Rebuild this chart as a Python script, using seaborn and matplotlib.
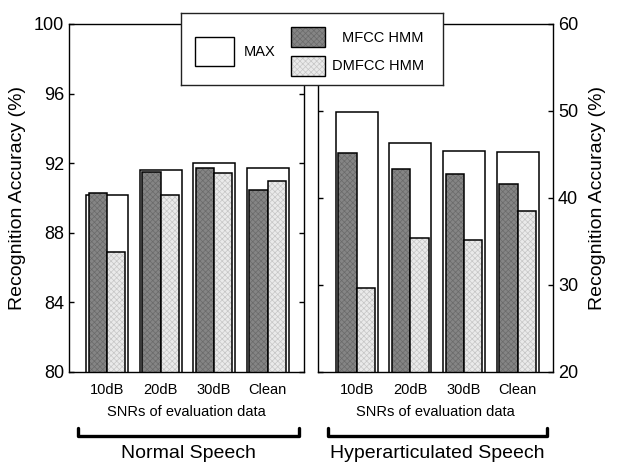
import pandas as pd
import seaborn as sns
import matplotlib.pyplot as plt
from matplotlib.lines import Line2D
from matplotlib.patches import Rectangle
from matplotlib.colors import to_rgba

sns.set_style("ticks")
plt.rcParams['font.family'] = ['Liberation Sans', 'DejaVu Sans']
plt.rcParams['hatch.linewidth'] = 0.5
for k in ['text.color', 'axes.labelcolor', 'xtick.color', 'ytick.color']:
    plt.rcParams[k] = 'black'

# values
snr = ["10dB", "20dB", "30dB", "Clean"]
normal_max = [90.2, 91.6, 92.0, 91.7]
normal_mfcc = [90.3, 91.5, 91.75, 90.45]
normal_dmfcc = [86.9, 90.15, 91.45, 90.95]
hyper_max = [49.85, 46.35, 45.4, 45.25]
hyper_mfcc = [45.15, 43.35, 42.75, 41.65]
hyper_dmfcc = [29.7, 35.4, 35.15, 38.5]

models = ["MFCC HMM", "DMFCC HMM"]
fills = {"MFCC HMM": "#858585", "DMFCC HMM": "#eaeaea"}
hatchcols = {"MFCC HMM": "#6a6a6a", "DMFCC HMM": "#c6c6c6"}


def set_hatch(p, hatch, col):
    p.set_hatch(hatch)
    try:
        p.set_hatchcolor(col)
    except AttributeError:
        p._hatch_color = to_rgba(col)


def draw_panel(ax, vmax, mfcc, dmfcc):
    sns.barplot(x=snr, y=vmax, color="white", edgecolor="black",
                linewidth=1.1, width=0.785, saturation=1, ax=ax)
    df = pd.DataFrame({"snr": snr * 2, "acc": mfcc + dmfcc,
                       "model": [models[0]] * 4 + [models[1]] * 4})
    sns.barplot(data=df, x="snr", y="acc", hue="model", hue_order=models,
                palette=fills, saturation=1, width=0.68, dodge=True,
                edgecolor="black", linewidth=1.1, legend=False, ax=ax)
    bars = ax.patches
    for p in bars[4:8]:
        set_hatch(p, "xxxxxx", hatchcols[models[0]])
    for p in bars[8:12]:
        set_hatch(p, "xxxxxx", hatchcols[models[1]])
    ax.set_xlabel("SNRs of evaluation data", fontsize=10.5, labelpad=6)
    ax.tick_params(axis="x", length=0, labelsize=10.5, pad=8)
    ax.tick_params(axis="y", direction="in", length=3.5, width=1,
                   labelsize=13, left=True, right=True)
    for s in ax.spines.values():
        s.set_visible(True)
        s.set_linewidth(1)
        s.set_color("black")


fig = plt.figure(figsize=(6.17, 4.63), dpi=100)
ax1 = fig.add_axes([69 / 617, 1 - 372 / 463, 235 / 617, 348 / 463])
ax2 = fig.add_axes([318 / 617, 1 - 372 / 463, 235 / 617, 348 / 463])

draw_panel(ax1, normal_max, normal_mfcc, normal_dmfcc)
ax1.set_ylim(80, 100)
ax1.set_yticks([80, 84, 88, 92, 96, 100])
ax1.set_xlim(-0.71, 3.68)
ax1.tick_params(axis="y", labelleft=True, labelright=False)
ax1.set_ylabel("Recognition Accuracy (%)", fontsize=14, labelpad=6)

draw_panel(ax2, hyper_max, hyper_mfcc, hyper_dmfcc)
ax2.set_ylim(20, 60)
ax2.set_yticks([20, 30, 40, 50, 60])
ax2.set_xlim(-0.72, 3.66)
ax2.tick_params(axis="y", labelleft=False, labelright=True)
ax2.yaxis.set_label_position("right")
ax2.set_ylabel("Recognition Accuracy (%)", fontsize=14, labelpad=8)

# group brackets and titles under each panel
for x0, x1, name in [(78, 299, "Normal Speech"), (328, 547, "Hyperarticulated Speech")]:
    xs = [x0 / 617, x0 / 617, x1 / 617, x1 / 617]
    ys = [1 - 428 / 463, 1 - 436 / 463, 1 - 436 / 463, 1 - 428 / 463]
    fig.add_artist(Line2D(xs, ys, transform=fig.transFigure, color="black",
                          linewidth=2.4, solid_joinstyle="round"))
    fig.text((x0 + x1) / 2 / 617, 1 - 458.5 / 463, name, ha="center",
             va="baseline", fontsize=14)

# legend box drawn on top of both panels
lax = fig.add_axes([181 / 617, 1 - 85 / 463, 262 / 617, 71.7 / 463])
lax.set_xlim(181, 443)
lax.set_ylim(85, 13.3)
lax.set_xticks([])
lax.set_yticks([])
for s in lax.spines.values():
    s.set_linewidth(1)
    s.set_color("#222222")
lax.add_patch(Rectangle((195, 36.7), 39, 29.3, facecolor="white",
                        edgecolor="black", linewidth=1))
lax.text(243.5, 51.5, "MAX", va="center", ha="left", fontsize=10.5)
r = Rectangle((291, 27.3), 34, 19.7, facecolor=fills[models[0]],
              edgecolor="black", linewidth=1)
set_hatch(r, "xxxxxx", hatchcols[models[0]])
lax.add_patch(r)
r = Rectangle((291, 56), 34, 19.7, facecolor=fills[models[1]],
              edgecolor="black", linewidth=1)
set_hatch(r, "xxxxxx", hatchcols[models[1]])
lax.add_patch(r)
lax.text(423.5, 37.5, "MFCC HMM", va="center", ha="right", fontsize=10.5)
lax.text(424.5, 66.3, "DMFCC HMM", va="center", ha="right", fontsize=10.5)

fig.savefig("out.png", dpi=100)
